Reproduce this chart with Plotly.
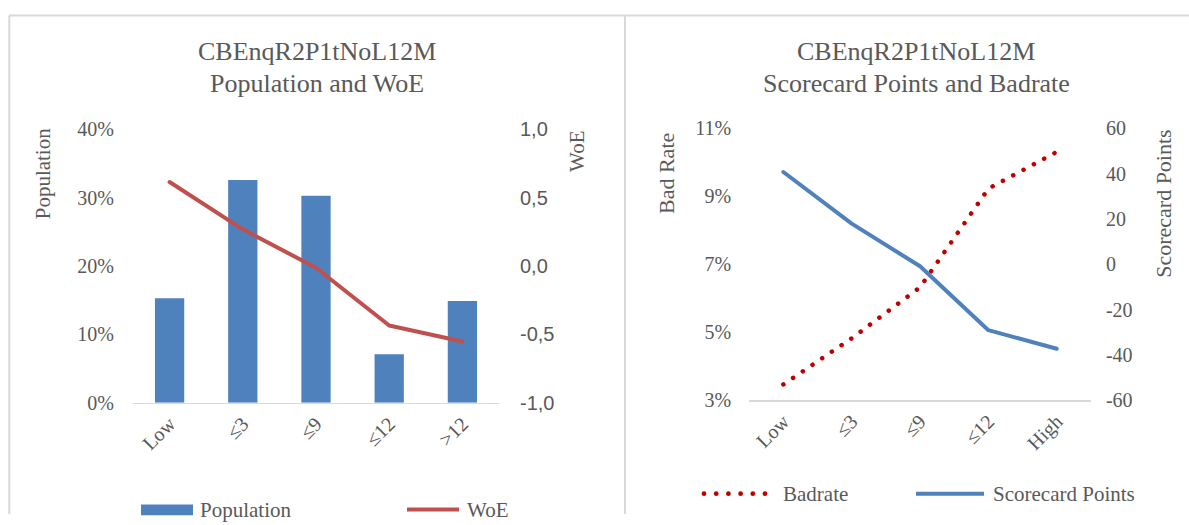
import plotly.graph_objects as go

# ---- data -------------------------------------------------------------
bins_population = ["Low", "≤3", "≤9", "≤12", ">12"]
population_share = [0.153, 0.326, 0.303, 0.071, 0.149]
woe_values = [0.615, 0.269, -0.012, -0.434, -0.551]

bins_score = ["Low", "≤3", "≤9", "≤12", "High"]
bad_rate = [0.0347, 0.0483, 0.0633, 0.0923, 0.1031]
scorecard_points = [40.8, 18.0, -0.8, -29.0, -37.2]

woe_ticks = [-1.0, -0.5, 0.0, 0.5, 1.0]
points_ticks = [-60, -40, -20, 0, 20, 40, 60]

# ---- styling ----------------------------------------------------------
W, H = 1189, 525
SERIF = "Liberation Serif, Times New Roman, serif"
SANS = "Liberation Sans, Arial, sans-serif"
GREY = "#595959"
BLUE = "#4f81bd"
RED = "#c0504d"
DARK_RED = "#c00000"
FRAME = "#d9d9d9"

# vertical placement helper (page offset / scale of the capture)
Y_OFF, Y_SCALE = 10.1, 0.9575


def px(x):
    return x / W


def py(y):
    return 1 - ((y - Y_OFF) / Y_SCALE) / H


fig = go.Figure()

fig.add_trace(go.Bar(
    x=bins_population, y=population_share, xaxis="x", yaxis="y",
    marker=dict(color=BLUE, line=dict(width=0)), width=0.4,
    name="Population", showlegend=False,
))
fig.add_trace(go.Scatter(
    x=bins_population, y=woe_values, xaxis="x", yaxis="y2",
    mode="lines", line=dict(color=RED, width=4),
    name="WoE", showlegend=False,
))
fig.add_trace(go.Scatter(
    x=bins_score, y=bad_rate, xaxis="x2", yaxis="y3",
    mode="lines", line=dict(color=DARK_RED, width=4.5, dash="4px,7.7px"),
    name="Badrate", showlegend=False,
))
fig.add_trace(go.Scatter(
    x=bins_score, y=scorecard_points, xaxis="x2", yaxis="y4",
    mode="lines", line=dict(color=BLUE, width=4),
    name="Scorecard Points", showlegend=False,
))

tick_font = dict(family=SERIF, size=20, color=GREY)
cat_axis = dict(
    type="category", range=[-0.5, 4.5], showgrid=False, zeroline=False,
    showline=True, linecolor=FRAME, linewidth=1.5, ticks="",
    tickangle=-45, tickfont=tick_font, ticklabelstandoff=0, fixedrange=True,
)
val_axis = dict(showgrid=False, zeroline=False, showline=False, ticks="",
                fixedrange=True)

fig.update_layout(
    width=W, height=H, autosize=False,
    margin=dict(l=0, r=0, t=0, b=0),
    paper_bgcolor="white", plot_bgcolor="white",
    showlegend=False,
    xaxis=dict(cat_axis, domain=[px(133), px(499)], anchor="y"),
    yaxis=dict(val_axis, domain=[py(401.7), py(128.4)], anchor="x",
               range=[0, 0.4], tick0=0, dtick=0.1, tickformat=".0%",
               tickfont=tick_font, ticklabelstandoff=18),
    yaxis2=dict(val_axis, overlaying="y", side="right", anchor="x",
                range=[-1, 1], tickvals=woe_ticks,
                ticktext=[f"{v:.1f}".replace(".", ",") for v in woe_ticks],
                tickfont=dict(family=SANS, size=20, color=GREY),
                ticklabelstandoff=20),
    xaxis2=dict(cat_axis, domain=[px(749.2), px(1090.9)], anchor="y3"),
    yaxis3=dict(val_axis, domain=[py(399.3), py(127.5)], anchor="x2",
                range=[0.03, 0.11], tick0=0.03, dtick=0.02, tickformat=".0%",
                tickfont=tick_font, ticklabelstandoff=17),
    yaxis4=dict(val_axis, overlaying="y3", side="right", anchor="x2",
                range=[-60, 60], tickvals=points_ticks,
                ticktext=[str(v) for v in points_ticks],
                tickfont=tick_font, ticklabelstandoff=14),
)

# ---- panel frames -----------------------------------------------------
shapes = [
    dict(type="line", xref="paper", yref="paper", x0=px(9), x1=1,
         y0=py(14.5), y1=py(14.5), line=dict(color=FRAME, width=2)),
    dict(type="line", xref="paper", yref="paper", x0=px(9.3), x1=px(9.3),
         y0=py(14.5), y1=0, line=dict(color=FRAME, width=2)),
    dict(type="line", xref="paper", yref="paper", x0=px(625), x1=px(625),
         y0=py(14.5), y1=0, line=dict(color=FRAME, width=2)),
]

# ---- legend keys ------------------------------------------------------
shapes.append(dict(type="rect", xref="paper", yref="paper",
                   x0=px(141), x1=px(193), y0=py(514), y1=py(503.3),
                   fillcolor=BLUE, line=dict(width=0)))
shapes.append(dict(type="line", xref="paper", yref="paper",
                   x0=px(407), x1=px(459), y0=py(508.3), y1=py(508.3),
                   line=dict(color=RED, width=4)))
for i in range(6):
    cx = 704 + i * 12.2
    shapes.append(dict(type="circle", xref="paper", yref="paper",
                       x0=px(cx - 2.4), x1=px(cx + 2.4),
                       y0=py(492.5 + 2.4), y1=py(492.5 - 2.4),
                       fillcolor=DARK_RED, line=dict(width=0)))
shapes.append(dict(type="line", xref="paper", yref="paper",
                   x0=px(916), x1=px(984), y0=py(492.5), y1=py(492.5),
                   line=dict(color=BLUE, width=4)))

fig.update_layout(shapes=shapes)

# ---- texts ------------------------------------------------------------
def text(x, y, s, size, family=SERIF, xanchor="center", angle=0):
    fig.add_annotation(x=px(x), y=py(y), xref="paper", yref="paper",
                       text=s, showarrow=False, xanchor=xanchor,
                       yanchor="middle", textangle=angle,
                       font=dict(family=family, size=size, color=GREY))


text(316.5, 51, "CBEnqR2P1tNoL12M", 26)
text(316.5, 83, "Population and WoE", 26)
text(916, 51, "CBEnqR2P1tNoL12M", 26)
text(916, 83, "Scorecard Points and Badrate", 26)

text(43.3, 172, "Population", 21, angle=-90)
text(577, 151, "WoE", 21, angle=-90)
text(666, 173, "Bad Rate", 22, angle=-90)
text(1163.3, 202.5, "Scorecard Points", 22, angle=-90)

text(198, 508.5, "Population", 21, xanchor="left")
text(465, 508.5, "WoE", 21, xanchor="left")
text(781, 492.5, "Badrate", 21, xanchor="left")
text(991, 492.5, "Scorecard Points", 21, xanchor="left")

# round line caps, and turn the dashed bad-rate line into round dots
post = """
var gd = document.getElementById('{plot_id}');
gd.querySelectorAll('.scatterlayer path.js-line').forEach(function (p) {
  p.style.strokeLinecap = 'round';
  p.style.strokeLinejoin = 'round';
  var d = p.style.strokeDasharray;
  if (d && d !== 'none' && d !== '') {
    p.style.strokeDasharray = '0.1px,11.6px';
  }
});
"""

fig.write_html("out.html", post_script=post,
               config=dict(displayModeBar=False, staticPlot=True))
